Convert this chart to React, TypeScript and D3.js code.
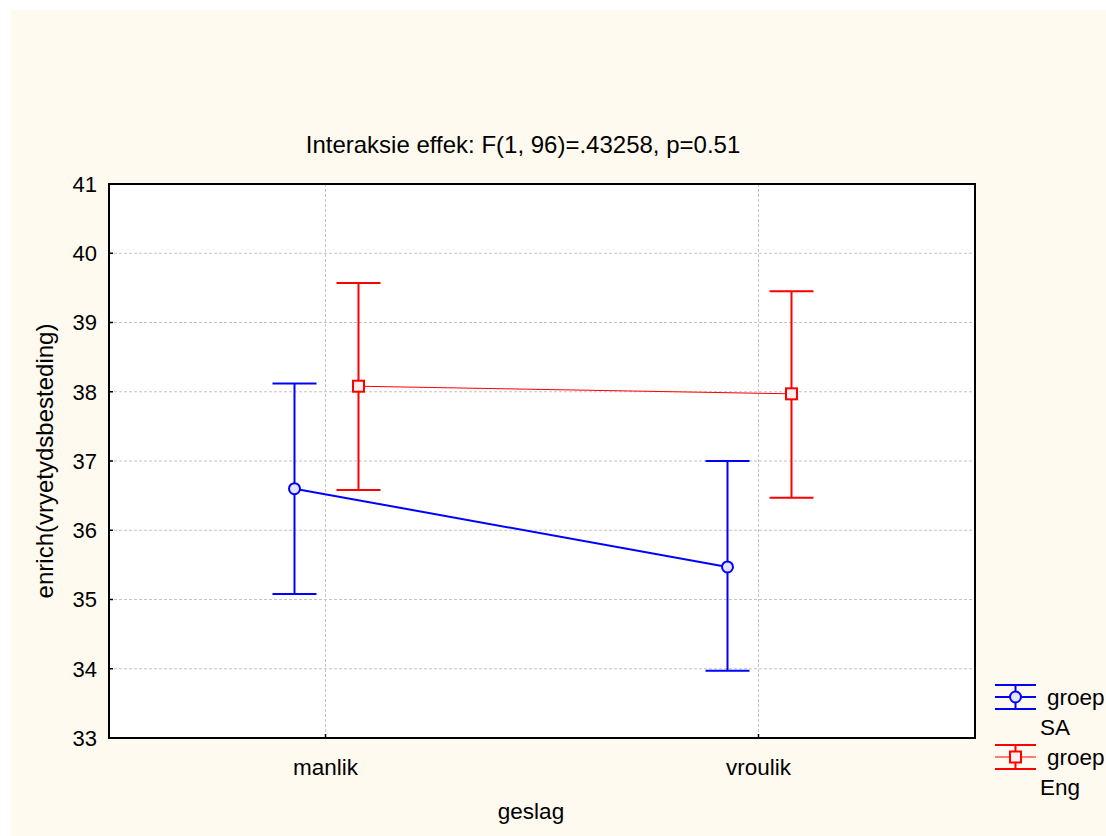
import React from "react";
import * as d3 from "d3";

const categories = ["manlik", "vroulik"];
const groups = ["SA", "Eng"];
const saMeans = [36.6, 35.47];
const saUpper = [38.12, 37.0];
const saLower = [35.08, 33.97];
const engMeans = [38.08, 37.97];
const engUpper = [39.57, 39.45];
const engLower = [36.58, 36.47];
const yTicks = [33, 34, 35, 36, 37, 38, 39, 40, 41];

const W = 1106;
const H = 836;
const L = 109, R = 975, T = 184, B = 738;
const FONT = "'Liberation Sans', Arial, sans-serif";

export default function App() {
  const x = d3.scalePoint<string>().domain(categories).range([L, R]).padding(0.5);
  const y = d3.scaleLinear().domain([33, 41]).range([B, T]);
  const series = [
    { name: groups[0], color: "#0000ff", off: -31, means: saMeans, up: saUpper, lo: saLower, lw: 2, marker: "circle" },
    { name: groups[1], color: "#ff0000", off: 33, means: engMeans, up: engUpper, lo: engLower, lw: 1, marker: "square" },
  ];
  const line = d3.line<[number, number]>().x((d) => d[0]).y((d) => d[1]);
  const cap = 22;

  return (
    <svg width={W} height={H} style={{ position: "absolute", left: 0, top: 0, background: "#ffffff" }} fontFamily={FONT}>
      <rect x={11} y={10} width={W - 11} height={H - 10} fill="#fffaf0" />
      <rect x={L} y={T} width={R - L} height={B - T} fill="#ffffff" />
      {/* grid */}
      {yTicks.slice(1, -1).map((t) => (
        <line key={"gy" + t} x1={L} x2={R} y1={y(t)} y2={y(t)} stroke="#c4c4c4" strokeWidth={1} strokeDasharray="3,2" />
      ))}
      {categories.map((c) => (
        <line key={"gx" + c} x1={x(c)} x2={x(c)} y1={T} y2={B} stroke="#c4c4c4" strokeWidth={1} strokeDasharray="3,2" />
      ))}
      {/* ticks */}
      {yTicks.map((t) => (
        <g key={"yt" + t}>
          <line x1={L} x2={L + 4} y1={y(t)} y2={y(t)} stroke="#000" strokeWidth={1.5} />
          <text x={97} y={y(t)} dy="0.36em" textAnchor="end" fontSize={22} fill="#000">{t}</text>
        </g>
      ))}
      {categories.map((c) => (
        <g key={"xt" + c}>
          <line x1={x(c)} x2={x(c)} y1={B} y2={B - 4} stroke="#000" strokeWidth={1.5} />
          <text x={x(c)} y={775} textAnchor="middle" fontSize={22.5} fill="#000">{c}</text>
        </g>
      ))}
      {/* series */}
      {series.map((s) => {
        const pts: [number, number][] = categories.map((c, i) => [(x(c) as number) + s.off, y(s.means[i])]);
        return (
          <g key={s.name}>
            <path d={line(pts) || ""} fill="none" stroke={s.color} strokeWidth={s.lw} />
            {categories.map((c, i) => {
              const cx = (x(c) as number) + s.off;
              return (
                <g key={c}>
                  <line x1={cx} x2={cx} y1={y(s.up[i])} y2={y(s.lo[i])} stroke={s.color} strokeWidth={2} />
                  <line x1={cx - cap} x2={cx + cap} y1={y(s.up[i])} y2={y(s.up[i])} stroke={s.color} strokeWidth={2} />
                  <line x1={cx - cap} x2={cx + cap} y1={y(s.lo[i])} y2={y(s.lo[i])} stroke={s.color} strokeWidth={2} />
                  {s.marker === "circle" ? (
                    <circle cx={cx} cy={y(s.means[i])} r={5.5} fill="#e4e4ff" stroke={s.color} strokeWidth={2} />
                  ) : (
                    <rect x={cx - 5.5} y={y(s.means[i]) - 5.5} width={11} height={11} fill="#ffeeee" stroke={s.color} strokeWidth={2} />
                  )}
                </g>
              );
            })}
          </g>
        );
      })}
      {/* frame */}
      <rect x={L} y={T} width={R - L} height={B - T} fill="none" stroke="#000" strokeWidth={2} />
      {/* titles */}
      <text x={523} y={153} textAnchor="middle" fontSize={24} fill="#000">Interaksie effek: F(1, 96)=.43258, p=0.51</text>
      <text x={531} y={819} textAnchor="middle" fontSize={22.5} fill="#000">geslag</text>
      <text transform={`translate(53,${(T + B) / 2}) rotate(-90)`} textAnchor="middle" fontSize={24} fill="#000">enrich(vryetydsbesteding)</text>
      {/* legend */}
      {series.map((s, i) => {
        const my = i === 0 ? 697 : 757;
        const lx0 = 995, lx1 = 1036, lc = (lx0 + lx1) / 2;
        return (
          <g key={"lg" + s.name}>
            <line x1={lx0} x2={lx1} y1={my - 12} y2={my - 12} stroke={s.color} strokeWidth={2} />
            <line x1={lx0} x2={lx1} y1={my + 12} y2={my + 12} stroke={s.color} strokeWidth={2} />
            <line x1={lx0} x2={lx1} y1={my} y2={my} stroke={s.color} strokeWidth={s.lw} />
            <line x1={lc} x2={lc} y1={my - 12} y2={my + 12} stroke={s.color} strokeWidth={2} />
            {s.marker === "circle" ? (
              <circle cx={lc} cy={my} r={5.5} fill="#e4e4ff" stroke={s.color} strokeWidth={2} />
            ) : (
              <rect x={lc - 5.5} y={my - 5.5} width={11} height={11} fill="#ffeeee" stroke={s.color} strokeWidth={2} />
            )}
            <text x={1047} y={my + 8} fontSize={22.5} fill="#000">groep</text>
            <text x={1040} y={my + 38} fontSize={22.5} fill="#000">{s.name}</text>
          </g>
        );
      })}
    </svg>
  );
}
